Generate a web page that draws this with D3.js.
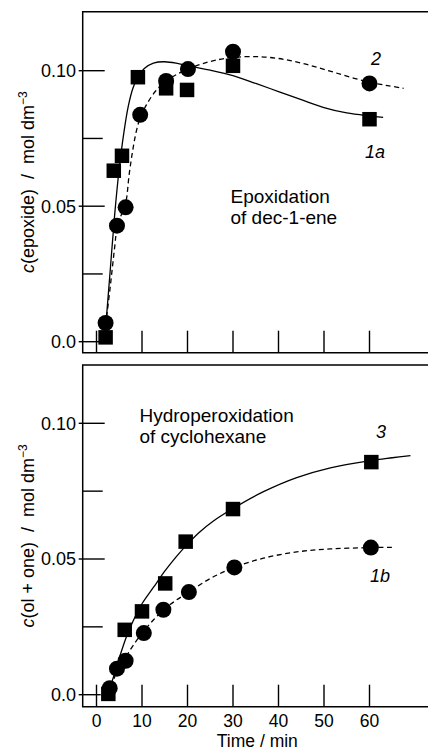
<!DOCTYPE html>
<html>
<head>
<meta charset="utf-8">
<script src="https://cdn.jsdelivr.net/npm/d3@7"></script>
<style>
  html, body { margin: 0; padding: 0; background: #fff; }
  svg { display: block; }
  text { font-family: "Liberation Sans", Arial, Helvetica, sans-serif; fill: #000; }
</style>
</head>
<body>
<svg id="chart" width="428" height="751"></svg>
<script>
// ---------- data ----------
const xTickValues = [0, 10, 20, 30, 40, 50, 60];
const xTickLabels = ["0", "10", "20", "30", "40", "50", "60"];
const yMajorValues = [0, 0.05, 0.10];
const yMajorLabels = ["0.0", "0.05", "0.10"];
const yMinorValues = [0.025, 0.075];

// Top panel: epoxidation of dec-1-ene
const t1a = [2.0, 3.8, 5.6, 9.1, 15.3, 19.9, 30, 60];
const c1a = [0.0016, 0.0631, 0.0686, 0.0976, 0.0935, 0.0929, 0.1018, 0.0821];
const t2 = [2.0, 4.5, 6.4, 9.6, 15.3, 20.1, 30, 60];
const c2 = [0.0069, 0.0428, 0.0496, 0.0837, 0.0962, 0.1006, 0.1070, 0.0953];
// fitted curves
const fit1aT = [2.0, 3.0, 4.0, 5.0, 6.0, 7.0, 8.0, 9.0, 10.5, 12.5, 15, 18, 21, 25, 30, 35, 40, 45, 50, 55, 60, 63];
const fit1aC = [0.005, 0.026, 0.047, 0.064, 0.077, 0.087, 0.0935, 0.0975, 0.1008, 0.1028, 0.1033, 0.1026, 0.1015, 0.1002, 0.0982, 0.0953, 0.0923, 0.0893, 0.0864, 0.0844, 0.0833, 0.0828];
const fit2T = [2.0, 3.0, 4.0, 4.6, 5.5, 6.4, 7.2, 8.0, 8.8, 9.7, 11, 13, 15.3, 17.5, 20, 23, 26, 30, 35, 40, 45, 50, 55, 60, 64, 67.5];
const fit2C = [0.006, 0.020, 0.035, 0.043, 0.047, 0.051, 0.062, 0.071, 0.078, 0.083, 0.0875, 0.0925, 0.0962, 0.0985, 0.1005, 0.1024, 0.1038, 0.1049, 0.1052, 0.1045, 0.1028, 0.1005, 0.098, 0.0957, 0.0945, 0.0935];

// Bottom panel: hydroperoxidation of cyclohexane
const t3 = [2.6, 6.2, 10.0, 15.1, 19.6, 30, 60.4];
const c3 = [0.0003, 0.0239, 0.0307, 0.0410, 0.0564, 0.0684, 0.0857];
const t1b = [2.9, 4.5, 6.4, 10.4, 14.7, 20.3, 30.3, 60.3];
const c1b = [0.0024, 0.0096, 0.0125, 0.0227, 0.0313, 0.0378, 0.0469, 0.0542];
const fit3T = [2.5, 4.0, 5.0, 6.5, 8.0, 10.0, 12.5, 15, 17.5, 20, 22.5, 25.7, 30, 36.7, 44, 51.4, 60, 65, 69];
const fit3C = [0.0, 0.008, 0.0135, 0.021, 0.027, 0.0335, 0.0395, 0.0455, 0.0508, 0.0555, 0.0597, 0.064, 0.0686, 0.0748, 0.080, 0.0836, 0.0862, 0.0873, 0.0881];
const fit1bT = [2.5, 3.1, 4.5, 6.4, 8.0, 10.4, 12.5, 14.7, 17.5, 20.3, 25, 30.3, 36.7, 44, 51.4, 60.3, 65.4];
const fit1bC = [0.0, 0.0025, 0.0085, 0.0138, 0.018, 0.0235, 0.0275, 0.0312, 0.0348, 0.0378, 0.0428, 0.0469, 0.0503, 0.0526, 0.0537, 0.0542, 0.0543];

// ---------- layout ----------
const W = 428;
const frameLeft = 82.7;
const panels = [
  {
    top: 11.7, bottom: 352.7, y0: 341.7, y10: 70.7,
    ylabelMain: "(epoxide)",
    squares: [t1a, c1a], circles: [t2, c2],
    solid: [fit1aT, fit1aC], dashed: [fit2T, fit2C],
    notes: [{t: "Epoxidation", x: 230.5, y: 203}, {t: "of dec-1-ene", x: 230.5, y: 223.5}],
    tags: [{t: "2", x: 376, y: 65}, {t: "1a", x: 375, y: 158}]
  },
  {
    top: 365, bottom: 706.7, y0: 694.7, y10: 423.3,
    ylabelMain: "(ol + one)",
    squares: [t3, c3], circles: [t1b, c1b],
    solid: [fit3T, fit3C], dashed: [fit1bT, fit1bC],
    notes: [{t: "Hydroperoxidation", x: 139.5, y: 422}, {t: "of cyclohexane", x: 139.5, y: 443}],
    tags: [{t: "3", x: 381, y: 438}, {t: "1b", x: 380, y: 581.5}]
  }
];

const x = d3.scaleLinear().domain([0, 60]).range([96.5, 369.5]);
const svg = d3.select("#chart");

panels.forEach((p, pi) => {
  const y = d3.scaleLinear().domain([0, 0.10]).range([p.y0, p.y10]);
  const g = svg.append("g");

  // frame: top, left, bottom
  g.append("path")
    .attr("d", `M${W},${p.top}H${frameLeft}V${p.bottom}H${W}`)
    .attr("fill", "none").attr("stroke", "#000").attr("stroke-width", 1.5);

  // x ticks (inward, upward from bottom)
  g.selectAll(".xt").data(xTickValues).enter().append("line")
    .attr("x1", d => x(d)).attr("x2", d => x(d))
    .attr("y1", p.bottom).attr("y2", p.bottom - 22)
    .attr("stroke", "#000").attr("stroke-width", 1.4);

  // y major ticks
  g.selectAll(".ymj").data(yMajorValues).enter().append("line")
    .attr("x1", frameLeft - 4).attr("x2", d => d === 0 ? frameLeft + 18 : frameLeft + 22)
    .attr("y1", d => y(d)).attr("y2", d => y(d))
    .attr("stroke", "#000").attr("stroke-width", 1.4);
  // y minor ticks
  g.selectAll(".ymn").data(yMinorValues).enter().append("line")
    .attr("x1", frameLeft).attr("x2", frameLeft + 20)
    .attr("y1", d => y(d)).attr("y2", d => y(d))
    .attr("stroke", "#000").attr("stroke-width", 1.4);

  // y tick labels
  g.selectAll(".yl").data(yMajorValues).enter().append("text")
    .attr("x", 76).attr("y", d => y(d))
    .attr("dy", "0.36em")
    .attr("text-anchor", "end")
    .attr("font-size", 18)
    .text((d, i) => yMajorLabels[i]);

  // y title
  const cy = (p.top + p.bottom) / 2;
  const yt = g.append("text")
    .attr("transform", `translate(34,${cy}) rotate(-90)`)
    .attr("text-anchor", "middle")
    .attr("font-size", 18)
    .style("white-space", "pre");
  yt.append("tspan").attr("font-style", "italic").text("c");
  yt.append("tspan").text(p.ylabelMain + "  /  mol dm");
  yt.append("tspan").attr("font-size", 12).attr("dy", -7).text("\u22123");

  // curves
  const line = d3.line().x(d => x(d[0])).y(d => y(d[1])).curve(d3.curveCatmullRom.alpha(0.5));
  const solidPts = d3.zip(p.solid[0], p.solid[1]);
  const dashedPts = d3.zip(p.dashed[0], p.dashed[1]);
  g.append("path").attr("d", line(solidPts))
    .attr("fill", "none").attr("stroke", "#000").attr("stroke-width", 1.3);
  g.append("path").attr("d", line(dashedPts))
    .attr("fill", "none").attr("stroke", "#000").attr("stroke-width", 1.3)
    .attr("stroke-dasharray", "5,3.5");

  // markers
  const sq = d3.zip(p.squares[0], p.squares[1]);
  const ci = d3.zip(p.circles[0], p.circles[1]);
  const s = 14.5;
  g.selectAll(".sq").data(sq).enter().append("rect")
    .attr("x", d => x(d[0]) - s / 2).attr("y", d => y(d[1]) - s / 2)
    .attr("width", s).attr("height", s).attr("fill", "#000");
  g.selectAll(".ci").data(ci).enter().append("circle")
    .attr("cx", d => x(d[0])).attr("cy", d => y(d[1]))
    .attr("r", 8).attr("fill", "#000");

  // annotations
  p.notes.forEach(n => {
    g.append("text").attr("x", n.x).attr("y", n.y)
      .attr("font-size", 19).text(n.t);
  });
  p.tags.forEach(n => {
    g.append("text").attr("x", n.x).attr("y", n.y)
      .attr("text-anchor", "middle").attr("font-style", "italic")
      .attr("font-size", 18).text(n.t);
  });

  // x tick labels only on bottom panel
  if (pi === 1) {
    g.selectAll(".xl").data(xTickValues).enter().append("text")
      .attr("x", d => x(d)).attr("y", 726.5)
      .attr("text-anchor", "middle").attr("font-size", 17.5)
      .text((d, i) => xTickLabels[i]);
    g.append("text").attr("x", (frameLeft + W) / 2 + 2).attr("y", 747)
      .attr("text-anchor", "middle").attr("font-size", 17.5)
      .text("Time / min");
  }
});
</script>
</body>
</html>
